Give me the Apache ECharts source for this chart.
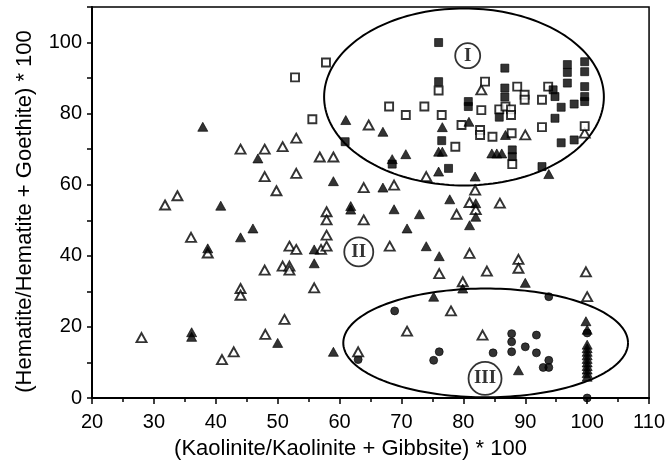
<!DOCTYPE html>
<html><head><meta charset="utf-8">
<script src="https://cdn.jsdelivr.net/npm/echarts@6/dist/echarts.min.js"></script>
<style>html,body{margin:0;padding:0;background:#fff}#c{width:668px;height:468px}</style>
</head><body><div id="c"></div>
<script>
// ---- data ----
const xTitle = "(Kaolinite/Kaolinite + Gibbsite) * 100";
const yTitle = "(Hematite/Hematite + Goethite) * 100";

const openSquares = [[52.8,90.2],[57.8,94.4],[55.6,78.4],[68,82],[70.7,79.6],[73.7,82],[76,86.5],[76.5,79.6],[78.7,70.7],[79.7,76.8],[82.9,81],[83.5,89],[82.7,75.4],[82.7,74],[84.7,73.5],[85.8,81.2],[86.8,82],[87.7,81.2],[87.7,79.6],[87.8,74.5],[87.9,65.8],[88.7,87.6],[89.9,85.3],[89.9,83.9],[92.7,83.9],[92.7,76.2],[93.7,87.6],[99.6,76.5]];

const filledSquares = [[76,100],[76,89],[60.9,72.1],[68.5,65.8],[76.5,72.4],[77.6,64.6],[80.8,83.4],[80.8,82],[85.8,79],[86.7,92.8],[86.7,87.2],[86.7,84.7],[87.9,69.8],[87.9,67.9],[92.7,65.1],[94.5,86.7],[94.8,84.8],[94.8,78.7],[95.8,81.8],[95.8,71.8],[96.8,93.8],[96.8,91.6],[96.8,88.6],[97.9,82.7],[97.9,72.6],[99.6,94.6],[99.6,91.8],[99.6,87.6],[99.6,84.8],[99.6,83.4]];

const openTriangles = [[28,17],[31.8,54.3],[33.8,56.9],[36,45.2],[38.7,40.8],[41,10.8],[42.9,13],[44,70],[44,30.8],[44,28.9],[47.9,70],[47.9,62.3],[47.9,36],[48,17.9],[49.8,58.3],[50.8,70.7],[50.8,37.1],[51.1,22.1],[51.9,42.7],[51.9,37.1],[51.9,36],[53,73.1],[53,63.2],[53,41.8],[55.9,31],[56.8,67.8],[57,41.8],[57.9,52.4],[57.9,50.1],[57.9,45.8],[57.9,42.7],[59,67.8],[63,13],[63.9,59.2],[63.9,50.1],[64.7,76.8],[68.1,42.7],[68.8,59.9],[70.9,18.8],[74,62.3],[76.1,35],[78,24.5],[78.9,51.7],[79.9,32.7],[81,55],[81,40.7],[82,53],[81.9,58.5],[82.9,86.7],[83.1,17.7],[83.8,35.7],[85.9,54.8],[88.9,39],[88.9,36.5],[90,74],[99.8,35.5],[100,28.5],[99.6,74.5]];

const filledTriangles = [[36.1,18.5],[36.1,17.2],[37.9,76.3],[38.7,42.1],[40.8,54.1],[44,45.2],[46,47.7],[46.8,67.4],[50,15.5],[55.9,41.8],[55.9,37.9],[59,61],[59,13],[61,78.2],[61.8,54],[61.8,53],[67,74.9],[67,59.2],[68.5,67.2],[68.8,53.1],[70.7,68.6],[70.9,47.7],[72.9,51.7],[74,42.7],[75.2,28.5],[76,63.7],[76,69.3],[76.6,69.3],[76.6,76.2],[76.1,39.9],[77.8,55.9],[79.9,30.8],[80.9,77.7],[81,48.6],[81.9,62.3],[82,54.8],[82,51],[84.6,68.8],[85.4,68.8],[86.2,68.8],[86.8,74],[88.9,7.8],[90,32.4],[93.8,63],[99.8,21.6],[100,19.2],[100,15],[100,14],[100,13],[100,12],[100,11],[100,10],[100,9],[100,8],[100,7],[100,6]];

const filledCircles = [[63,10.8],[68.9,24.5],[75.2,10.6],[76.1,13],[84.8,12.7],[87.8,18.1],[87.8,15.8],[87.8,13],[90,14.4],[91.8,17.7],[91.8,12.7],[93.8,28.5],[93.8,10.6],[92.9,8.6],[93.8,8.6],[100,18.3],[100,0]];

// group ellipses: [centerX, centerY, radiusX, radiusY]
const groupEllipses = [[80.1,84.7,22.6,24.9],[83.6,15.5,23,15.3]];
// group labels
const groupNames = ["I","II","III"];
const groupLabelPos = [[80.7,96.3],[63.1,41.1],[83.5,5.5]];
const groupLabelSize = [25,29,33];

const xTicks = [20,30,40,50,60,70,80,90,100,110];
const yTicks = [0,20,40,60,80,100];

// ---- chart ----
const chart = echarts.init(document.getElementById('c'), null, {renderer:'canvas'});
const tickFont = "'Liberation Sans Narrow','Liberation Sans',Arial,sans-serif";
const nameFont = "'Liberation Sans',Arial,sans-serif";

const markStyle = (filled) => filled
  ? {color:'#000', borderColor:'#000', borderWidth:0.8}
  : {color:'#fff', borderColor:'#000', borderWidth:1.9};

chart.setOption({
  animation:false,
  backgroundColor:'#fff',
  grid:{left:92, right:16, top:7, bottom:70, show:true, borderColor:'#000', borderWidth:1.5, backgroundColor:'transparent'},
  xAxis:{
    type:'value', min:20, max:110, interval:10,
    name:xTitle, nameLocation:'middle', nameGap:40,
    nameTextStyle:{fontFamily:nameFont, fontSize:22, color:'#000', padding:[0,40,0,0]},
    axisLine:{show:true, onZero:false, lineStyle:{color:'#000', width:2}},
    axisTick:{show:true, inside:false, length:6, lineStyle:{color:'#000', width:1.5}},
    minorTick:{show:true, splitNumber:2, length:4, lineStyle:{color:'#000', width:1.5}},
    axisLabel:{color:'#000', fontFamily:tickFont, fontSize:20, margin:14,
      formatter:v => xTicks.includes(v) ? String(v) : ''},
    splitLine:{show:false}
  },
  yAxis:{
    type:'value', min:0, max:110, interval:10,
    name:yTitle, nameLocation:'middle', nameGap:56, nameRotate:90,
    nameTextStyle:{fontFamily:nameFont, fontSize:22, color:'#000', padding:[0,18,0,0]},
    axisLine:{show:true, onZero:false, lineStyle:{color:'#000', width:2}},
    axisTick:{show:true, inside:false, length:5, lineStyle:{color:'#000', width:1.5}},
    axisLabel:{color:'#000', fontFamily:tickFont, fontSize:20, margin:10,
      formatter:v => yTicks.includes(v) ? String(v) : ''},
    splitLine:{show:false}
  },
  series:[
    {type:'custom', coordinateSystem:'cartesian2d', silent:true, clip:false, z:1,
      encode:{x:0, y:1},
      data:groupEllipses,
      renderItem:(params, api) => {
        const cx = api.value(0), cy = api.value(1), rx = api.value(2), ry = api.value(3);
        const pts = [];
        for (let i = 0; i <= 180; i++) {
          const t = i / 180 * Math.PI * 2;
          pts.push(api.coord([cx + rx * Math.cos(t), cy + ry * Math.sin(t)]));
        }
        return {type:'polyline', shape:{points:pts}, style:{fill:null, stroke:'#000', lineWidth:2}};
      }},
    {type:'scatter', symbol:'circle', symbolSize:8, data:filledCircles, itemStyle:markStyle(true), z:3},
    {type:'scatter', symbol:'triangle', symbolSize:[10,9], data:openTriangles, itemStyle:markStyle(false), z:3},
    {type:'scatter', symbol:'triangle', symbolSize:[10,9], data:filledTriangles, itemStyle:markStyle(true), z:4},
    {type:'scatter', symbol:'rect', symbolSize:8, data:openSquares, itemStyle:markStyle(false), z:3},
    {type:'scatter', symbol:'rect', symbolSize:8, data:filledSquares, itemStyle:markStyle(true), z:4},
    {type:'scatter', symbol:'circle', z:5,
      data:groupNames.map((n,i)=>({name:n, value:groupLabelPos[i], symbolSize:groupLabelSize[i]})),
      itemStyle:{color:'#fff', borderColor:'#000', borderWidth:1.8},
      label:{show:true, position:'inside', formatter:'{b}', color:'#000',
        fontFamily:"'Liberation Serif','DejaVu Serif',serif", fontWeight:'bold', fontSize:19}}
  ]
});
</script></body></html>
